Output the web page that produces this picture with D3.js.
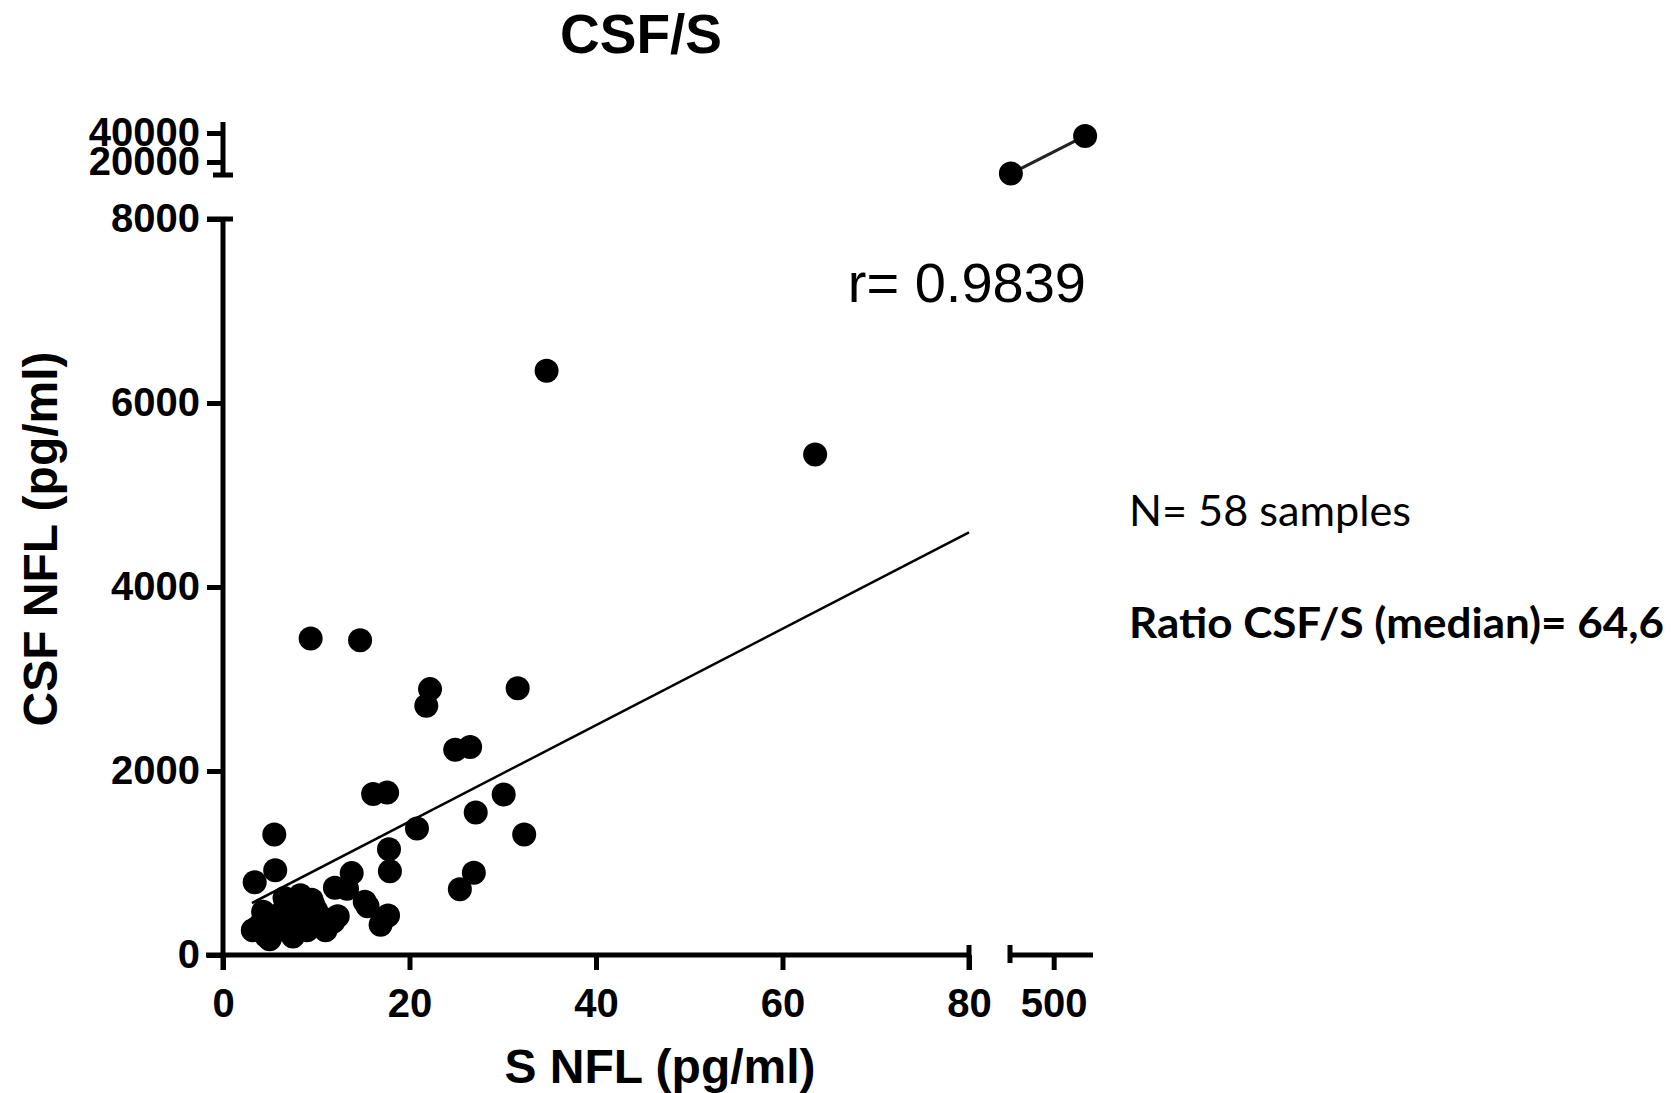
<!DOCTYPE html>
<html>
<head>
<meta charset="utf-8">
<script src="https://cdn.jsdelivr.net/npm/d3@7"></script>
<style>
  body { margin: 0; background: #fff; }
  .tick text { font-family: "Liberation Sans", Arial, sans-serif; font-weight: bold; font-size: 40px; fill: #000; }
  .tick line { stroke: #000; stroke-width: 5; }
</style>
</head>
<body>
<svg width="1676" height="1093"></svg>
<script>
// S NFL (x) and CSF NFL (y), pg/ml
const sNfl = [34.7, 63.5, 9.4, 14.7, 22.2, 21.8, 31.6, 24.9, 26.5, 16.1,
              17.6, 30.1, 27.1, 20.8, 32.3, 5.5, 17.8, 5.6, 3.4, 17.9,
              26.9, 25.4, 13.8, 12.0, 13.3, 15.2, 15.5, 17.7, 16.9, 6.6,
              8.3, 9.7, 4.3, 3.2, 5.0, 5.8, 7.5, 7.7, 9.0, 10.7,
              11.8, 4.0, 5.5, 6.2, 8.5, 10.2, 12.3, 4.8, 9.5, 11.0,
              6.8, 3.6, 7.2, 10.0, 4.6, 8.0, 451, 536];
const csfNfl = [6350, 5440, 3440, 3420, 2890, 2710, 2900, 2230, 2260, 1750,
                1765, 1745, 1550, 1375, 1310, 1310, 1150, 920, 790, 910,
                895, 715, 890, 730, 720, 580, 530, 430, 330, 620,
                650, 540, 470, 270, 170, 350, 200, 350, 270, 400,
                360, 330, 250, 450, 440, 320, 420, 380, 600, 270,
                390, 290, 560, 480, 210, 300, 12000, 38000];

// linear fit shown on the lower panel
const fitX = [3.1, 80];
const fitSlope = 52.4, fitIntercept = 402;

const xTicksLow = [0, 20, 40, 60, 80];
const xTicksHigh = [500];
const yTicksLow = [0, 2000, 4000, 6000, 8000];
const yTicksHigh = [20000, 40000];

const svg = d3.select("svg");
const font = '"Liberation Sans", Arial, sans-serif';

const xLow = d3.scaleLinear().domain([0, 80]).range([223, 969]);
const xHigh = d3.scaleLinear().domain([450, 545]).range([1010, 1093]);
const yLow = d3.scaleLinear().domain([0, 8000]).range([955, 219]);
const yHigh = d3.scaleLinear().domain([11034, 47586]).range([175, 122]);

const xs = v => v > 80 ? xHigh(v) : xLow(v);
const ys = v => v > 8000 ? yHigh(v) : yLow(v);

// axes (ticks + labels), domains drawn by hand for the breaks
function cleanup(g) { g.select(".domain").remove(); }

svg.append("g").attr("transform", "translate(223,0)")
    .call(d3.axisLeft(yLow).tickValues(yTicksLow).tickSize(16).tickPadding(7).tickFormat(d3.format("d")))
    .call(cleanup);
svg.append("g").attr("transform", "translate(223,0)")
    .call(d3.axisLeft(yHigh).tickValues(yTicksHigh).tickSize(16).tickPadding(7).tickFormat(d3.format("d")))
    .call(cleanup);
svg.append("g").attr("transform", "translate(0,955)")
    .call(d3.axisBottom(xLow).tickValues(xTicksLow).tickSize(15).tickPadding(19))
    .call(cleanup);
svg.append("g").attr("transform", "translate(0,955)")
    .call(d3.axisBottom(xHigh).tickValues(xTicksHigh).tickSize(15).tickPadding(19))
    .call(cleanup);

const axisLines = [
    // lower y axis and its top cap
    [223, yLow(0) + 15, 223, yLow(8000)],
    [207, yLow(8000), 233, yLow(8000)],
    // upper y axis and its bottom cap
    [223, yHigh(11034), 223, 122],
    [213, yHigh(11034), 233, yHigh(11034)],
    // lower x axis and its right cap
    [206, 955, xLow(80), 955],
    [xLow(80), 945, xLow(80), 970],
    // upper x axis and its left cap
    [xHigh(450), 955, xHigh(545), 955],
    [xHigh(450), 945, xHigh(450), 963]
];
svg.append("g").selectAll("line").data(axisLines).join("line")
    .attr("x1", d => d[0]).attr("y1", d => d[1])
    .attr("x2", d => d[2]).attr("y2", d => d[3])
    .attr("stroke", "#000").attr("stroke-width", 5);

// fit line
svg.append("line")
    .attr("x1", xLow(fitX[0])).attr("y1", yLow(fitSlope * fitX[0] + fitIntercept))
    .attr("x2", xLow(fitX[1])).attr("y2", yLow(fitSlope * fitX[1] + fitIntercept))
    .attr("stroke", "#000").attr("stroke-width", 2.5);

// link between the two points on the broken section
const hi = sNfl.map((d, i) => i).filter(i => sNfl[i] > 80);
svg.append("line")
    .attr("x1", xs(sNfl[hi[0]])).attr("y1", ys(csfNfl[hi[0]]))
    .attr("x2", xs(sNfl[hi[1]])).attr("y2", ys(csfNfl[hi[1]]))
    .attr("stroke", "#222").attr("stroke-width", 3);

svg.append("g").selectAll("circle").data(sNfl).join("circle")
    .attr("cx", d => xs(d))
    .attr("cy", (d, i) => ys(csfNfl[i]))
    .attr("r", 12)
    .attr("fill", "#000");

// titles
svg.append("text").attr("x", 641).attr("y", 53).attr("text-anchor", "middle")
    .style("font-family", font).style("font-weight", "bold").style("font-size", "55px")
    .text("CSF/S");
svg.append("text").attr("x", 660).attr("y", 1083).attr("text-anchor", "middle")
    .style("font-family", font).style("font-weight", "bold").style("font-size", "48px")
    .text("S NFL (pg/ml)");
svg.append("text").attr("transform", "translate(57,539) rotate(-90)").attr("text-anchor", "middle")
    .style("font-family", font).style("font-weight", "bold").style("font-size", "48px")
    .text("CSF NFL (pg/ml)");

svg.append("text").attr("x", 1086).attr("y", 302).attr("text-anchor", "end")
    .style("font-family", font).style("font-size", "56px")
    .text("r= 0.9839");

svg.append("text").attr("x", 1129).attr("y", 526)
    .attr("textLength", 282).attr("lengthAdjust", "spacingAndGlyphs")
    .style("font-family", "Lato, 'Open Sans', sans-serif").style("font-size", "42px")
    .text("N= 58 samples");
svg.append("text").attr("x", 1129).attr("y", 638)
    .attr("textLength", 535).attr("lengthAdjust", "spacingAndGlyphs")
    .style("font-family", "Lato, 'Open Sans', sans-serif").style("font-weight", "bold").style("font-size", "42px")
    .text("Ratio CSF/S (median)= 64,6");
</script>
</body>
</html>
